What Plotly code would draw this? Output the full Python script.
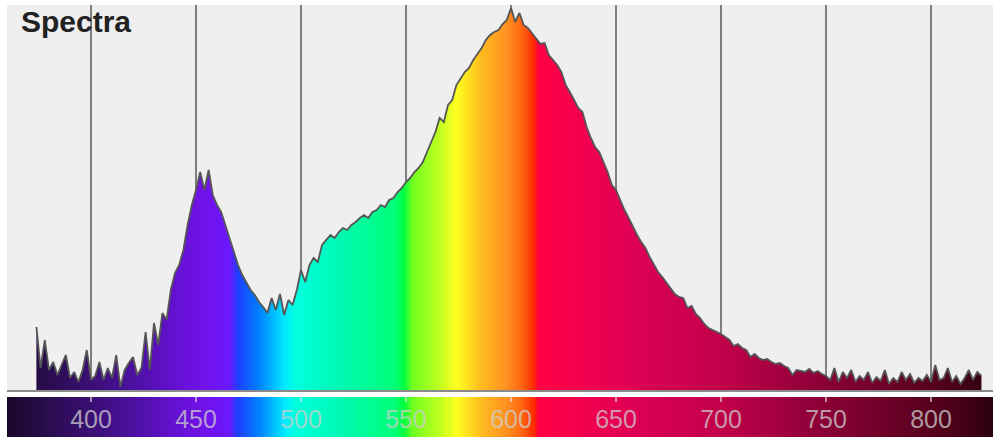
import plotly.graph_objects as go

# ---------------- data ----------------
wavelength_nm = list(range(374, 826, 2))
intensity = [
    63, 22, 50, 20, 28, 15, 25, 35, 12, 18,
    8, 20, 40, 10, 14, 28, 10, 22, 12, 35,
    3, 20, 27, 33, 15, 22, 58, 20, 67, 45,
    77, 70, 100, 117, 125, 140, 165, 185, 200, 218,
    200, 220, 195, 185, 178, 165, 150, 137, 125, 115,
    108, 100, 95, 88, 83, 77, 92, 80, 96, 75,
    90, 85, 100, 120, 108, 125, 132, 128, 145, 150,
    155, 152, 158, 162, 160, 165, 168, 172, 175, 172,
    178, 180, 185, 183, 190, 192, 198, 202, 208, 212,
    218, 222, 228, 238, 248, 258, 272, 268, 285, 290,
    305, 312, 318, 322, 330, 336, 342, 350, 355, 358,
    360, 366, 370, 382, 368, 377, 365, 362, 357, 352,
    346, 347, 335, 330, 325, 318, 305, 298, 290, 282,
    278, 263, 252, 243, 238, 228, 218, 205, 200, 190,
    180, 172, 163, 155, 148, 142, 133, 126, 118, 113,
    107, 102, 96, 93, 92, 82, 84, 76, 72, 66,
    62, 60, 58, 56, 53, 50, 44, 46, 42, 40,
    33, 36, 32, 30, 31, 28, 26, 27, 24, 22,
    15, 20, 19, 18, 21, 17, 19, 16, 14, 10,
    22, 8, 18, 12, 20, 8, 14, 10, 18, 7,
    13, 9, 20, 6, 12, 8, 18, 10, 16, 7,
    12, 9, 15, 8, 25, 10, 12, 22, 8, 14,
    6, 12, 20, 10, 18, 14,
]
tick_values = [400, 450, 500, 550, 600, 650, 700, 750, 800]
tick_labels = ["400", "450", "500", "550", "600", "650", "700", "750", "800"]

# spectrum colour stops (wavelength -> colour)
color_wl = [360, 380, 400, 420, 440, 455, 466, 470, 480, 492, 497, 520, 545,
            549, 553, 565, 574, 586, 598, 606, 611, 613, 640, 660, 700, 740,
            780, 810, 829.5]
color_hex = ['#1a0828', '#2a0c50', '#3a0f74', '#4c10a0', '#6410d0', '#7212ec',
             '#6a18ff', '#1e40ff', '#0080ff', '#00e8ff', '#00ffe0', '#00f8b0',
             '#00ff78', '#00ff40', '#70ff20', '#b8ff20', '#ffff20', '#ffbb20',
             '#ff9020', '#ff6010', '#ff2800', '#ff0044', '#ee0050', '#dc0055',
             '#c2004a', '#94003a', '#6c0028', '#4c0018', '#2a0010']

# bar sampling grid
bar_wl = [360 + 0.5 * i for i in range(940)]

# --------------- figure ---------------
wl_min, wl_max = 360, 829.5
colorscale = [[(w - wl_min) / (wl_max - wl_min), c] for w, c in zip(color_wl, color_hex)]

FONT = "Liberation Sans, Arial, Helvetica, sans-serif"

fig = go.Figure()

fig.add_trace(go.Scatter(
    x=wavelength_nm, y=intensity, mode="lines",
    line=dict(color="#555555", width=1.8),
    fill="tozeroy",
    fillgradient=dict(type="horizontal", colorscale=colorscale,
                      start=wl_min, stop=wl_max),
    hoverinfo="skip", showlegend=False,
    xaxis="x", yaxis="y",
))

fig.add_trace(go.Heatmap(
    x=bar_wl, y=[0], z=[bar_wl], colorscale=colorscale,
    zmin=wl_min, zmax=wl_max, showscale=False, hoverinfo="skip",
    xaxis="x2", yaxis="y2",
))

fig.update_layout(
    width=1000, height=444,
    margin=dict(l=7, r=7, t=5, b=7),
    paper_bgcolor="white", plot_bgcolor="#efefef",
    font=dict(family=FONT),
    xaxis=dict(range=[wl_min, wl_max], domain=[0, 1], anchor="y",
               tickvals=tick_values, showticklabels=False, ticks="",
               showgrid=True, gridcolor="#7f7f7f", gridwidth=2,
               zeroline=False, showline=True, linecolor="#8a8a8a", linewidth=2),
    yaxis=dict(range=[0, 385], domain=[47 / 432, 1], anchor="x",
               showgrid=False, zeroline=False, showticklabels=False, ticks=""),
    xaxis2=dict(range=[wl_min, wl_max], domain=[0, 1], anchor="y2", side="top",
                tickvals=tick_values, ticktext=tick_labels,
                ticks="inside", ticklen=5, tickwidth=2,
                tickcolor="rgba(230,230,230,0.6)",
                ticklabelposition="inside", ticklabelstandoff=10,
                tickfont=dict(size=25, color="rgba(205,205,205,0.75)", family=FONT),
                showgrid=False, zeroline=False, showline=False),
    yaxis2=dict(range=[-0.5, 0.5], domain=[0, 40 / 432], anchor="x2",
                showgrid=False, zeroline=False, showticklabels=False, ticks=""),
    annotations=[dict(
        text="<b>Spectra</b>", xref="paper", yref="paper",
        x=12 / 986, y=1, yshift=2, xanchor="left", yanchor="top",
        showarrow=False, font=dict(size=30, color="#222222", family=FONT),
    )],
)

fig.write_html("out.html", config={"displayModeBar": False},
               post_script="document.body.style.margin='0';document.body.style.padding='0';")
